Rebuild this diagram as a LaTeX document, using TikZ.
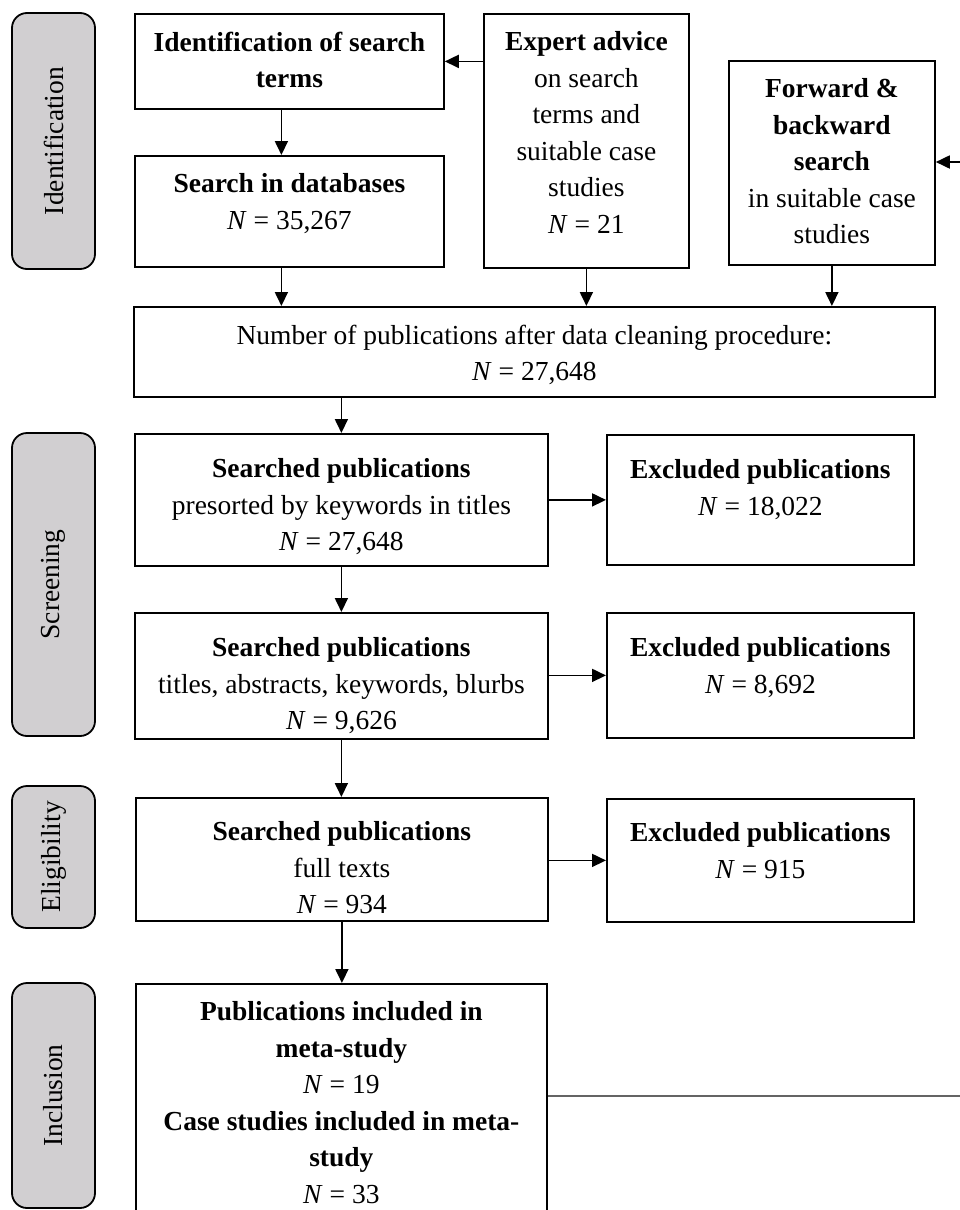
\documentclass[tikz,border=0pt]{standalone}
\usepackage{fontspec}
\setmainfont{Liberation Serif}
\usetikzlibrary{arrows.meta}
\definecolor{phasegray}{RGB}{209,207,209}
\definecolor{linkgray}{RGB}{100,100,100}
% box content: width, height, top padding, text
\newcommand\boxtext[4]{\parbox[t][#2pt][t]{#1pt}{\centering\vspace*{#3pt}#4}}
\newcommand\nval[1]{\textit{N} = #1}
\begin{document}
\begin{tikzpicture}[x=1pt,y=-1pt,
  every node/.style={font=\fontsize{27.5}{36.5}\selectfont},
  box/.style={draw, line width=1.8pt, inner sep=0pt, anchor=north west},
  phase/.style={draw, line width=1.8pt, fill=phasegray, rounded corners=15pt, rotate=90, inner sep=0pt, minimum height=83pt},
  arr/.style={line width=1.8pt, -{Triangle[length=14pt 0, width=13pt 0]}}]
\clip (0,0) rectangle (960,1210);

% phase labels
\node[phase, minimum width=256pt] (pid) at (53.5,141) {Identification};
\node[phase, minimum width=303pt] (pscr) at (53.5,584.5) {Screening};
\node[phase, minimum width=142pt] (pelig) at (53.5,857) {Eligibility};
\node[phase, minimum width=225pt] (pincl) at (53.5,1095.5) {Inclusion};

% identification
\node[box] (ident) at (134,13) {\boxtext{309}{95}{18}{\textbf{Identification of search}\\\textbf{terms}}};
\node[box] (db) at (134,155) {\boxtext{309}{111}{18}{\textbf{Search in databases}\\\nval{35,267}}};
\node[box] (expert) at (483,13) {\boxtext{205}{254}{18}{\textbf{Expert advice}\\on search\\terms and\\suitable case\\studies\\\nval{21}}};
\node[box] (fwd) at (728,60) {\boxtext{206}{204}{18}{\textbf{Forward \&}\\\textbf{backward}\\\textbf{search}\\in suitable case\\studies}};
\node[box] (num) at (133,306) {\boxtext{801}{90}{18}{Number of publications after data cleaning procedure:\\\nval{27,648}}};

% screening
\node[box] (s1) at (134,433) {\boxtext{413}{132}{25}{\textbf{Searched publications}\\presorted by keywords in titles\\\nval{27,648}}};
\node[box] (e1) at (606,434) {\boxtext{307}{130}{25}{\textbf{Excluded publications}\\\nval{18,022}}};
\node[box] (s2) at (134,612) {\boxtext{413}{126}{25}{\textbf{Searched publications}\\titles, abstracts, keywords, blurbs\\\nval{9,626}}};
\node[box] (e2) at (606,612) {\boxtext{307}{125}{25}{\textbf{Excluded publications}\\\nval{8,692}}};

% eligibility
\node[box] (s3) at (135,797) {\boxtext{412}{123}{24}{\textbf{Searched publications}\\full texts\\\nval{934}}};
\node[box] (e3) at (606,798) {\boxtext{307}{123}{24}{\textbf{Excluded publications}\\\nval{915}}};

% inclusion
\node[box] (inc) at (135,983) {\boxtext{411}{250}{18}{\textbf{Publications included in}\\\textbf{meta-study}\\\nval{19}\\\textbf{Case studies included in meta-}\\\textbf{study}\\\nval{33}}};

% connectors
\coordinate (fwdsrc) at (960,162);
\coordinate (linkend) at (960,1096);
\draw[arr] (expert.west |- ident.east) -- (ident.east);
\draw[arr] (fwdsrc) -- (fwdsrc -| fwd.east);
\draw[arr] ([xshift=-8pt]ident.south) -- ([xshift=-8pt]db.north);
\draw[arr] ([xshift=-8pt]db.south) -- ([xshift=-8pt]db.south |- num.north);
\draw[arr] (expert.south) -- (expert.south |- num.north);
\draw[arr] (fwd.south) -- (fwd.south |- num.north);
\draw[arr] (s1.north |- num.south) -- (s1.north);
\draw[arr] (s1.south) -- (s1.south |- s2.north);
\draw[arr] (s2.south) -- (s2.south |- s3.north);
\draw[arr] (s3.south) -- (s3.south |- inc.north);
\draw[arr] (s1.east |- e1.west) -- (e1.west);
\draw[arr] (s2.east |- e2.west) -- (e2.west);
\draw[arr] (s3.east |- e3.west) -- (e3.west);
\draw[linkgray, line width=1.2pt] (inc.east |- linkend) -- (linkend);
\end{tikzpicture}
\end{document}
